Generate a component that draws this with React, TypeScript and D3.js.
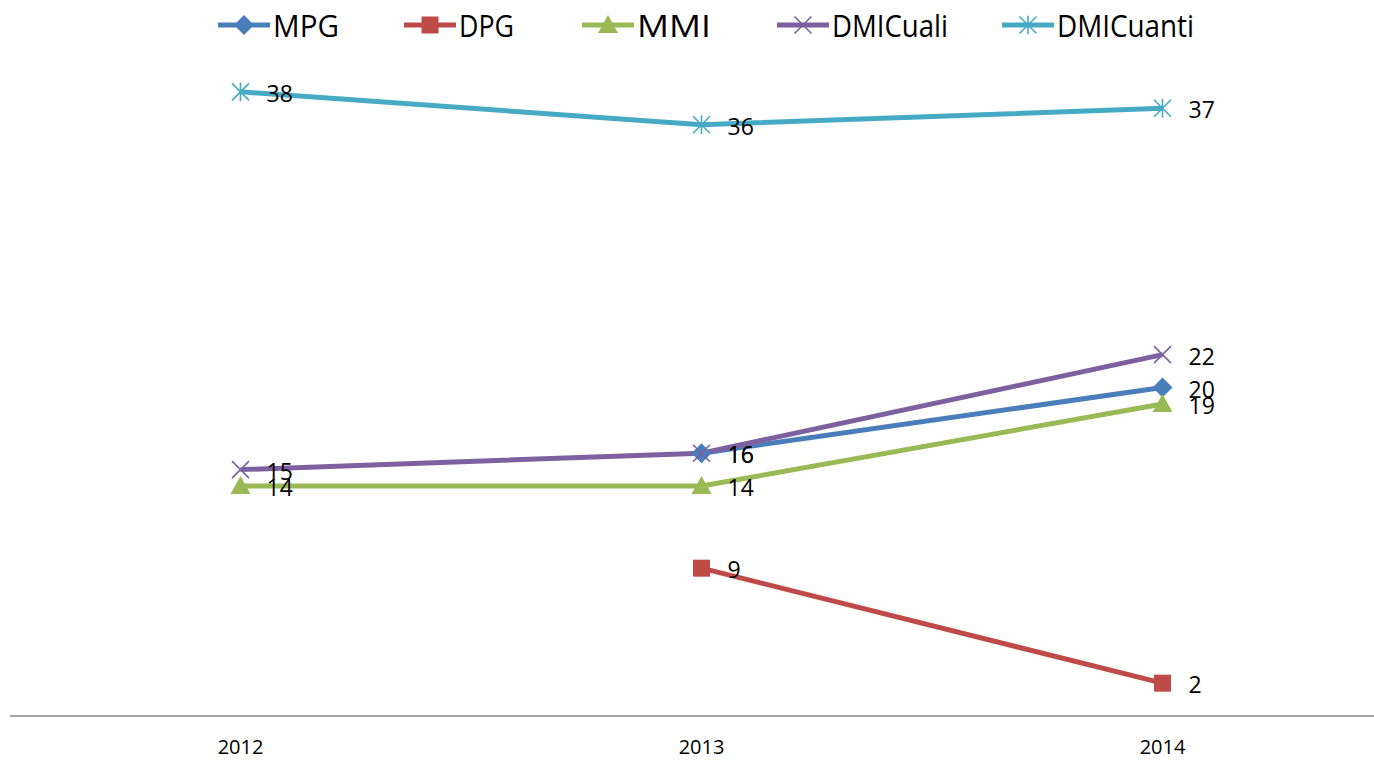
import React, { useRef, useEffect } from "react";
import * as d3 from "d3";

const years = ["2012", "2013", "2014"];
const seriesNames = ["MPG", "DPG", "MMI", "DMICuali", "DMICuanti"];
const mpg = [null, 16, 20];
const dpg = [null, 9, 2];
const mmi = [14, 14, 19];
const dmiCuali = [15, 16, 22];
const dmiCuanti = [38, 36, 37];
const colors = ["#4a7ebb", "#be4b48", "#98b954", "#7d60a0", "#46aac5"];
const markers = ["diamond", "square", "triangle", "x", "star"];

const W = 1374;
const H = 761;

function drawMarker(g: any, kind: string, color: string, s: number) {
  if (kind === "diamond") {
    g.append("path").attr("d", `M0,${-s}L${s},0L0,${s}L${-s},0Z`).attr("fill", color);
  } else if (kind === "square") {
    g.append("rect").attr("x", -s * 0.85).attr("y", -s * 0.85).attr("width", s * 1.7).attr("height", s * 1.7).attr("fill", color);
  } else if (kind === "triangle") {
    g.append("path").attr("d", `M0,${-s}L${s},${s * 0.8}L${-s},${s * 0.8}Z`).attr("fill", color);
  } else if (kind === "x") {
    const r = s * 0.85;
    g.append("path").attr("d", `M${-r},${-r}L${r},${r}M${-r},${r}L${r},${-r}`)
      .attr("stroke", color).attr("stroke-width", 1.6).attr("fill", "none");
  } else {
    const r = s * 0.85;
    g.append("path").attr("d", `M${-r},${-r}L${r},${r}M${-r},${r}L${r},${-r}M0,${-r * 1.1}L0,${r * 1.1}`)
      .attr("stroke", color).attr("stroke-width", 1.6).attr("fill", "none");
  }
}

export default function App() {
  const ref = useRef<SVGSVGElement>(null);

  useEffect(() => {
    const svg = d3.select(ref.current);
    svg.selectAll("*").remove();

    const all = [mpg, dpg, mmi, dmiCuali, dmiCuanti];

    const x = d3.scaleBand().domain(years).range([10, 1393]);
    const y = d3.scaleLinear().domain([0, 40]).range([716, 59]);
    const cx = (yr: string) => (x(yr) as number) + x.bandwidth() / 2;

    // axis
    svg.append("line").attr("x1", 10).attr("x2", W).attr("y1", y(0)).attr("y2", y(0))
      .attr("stroke", "#868686").attr("stroke-width", 1.5);
    svg.append("g").selectAll("text").data(years).enter().append("text")
      .attr("x", d => cx(d)).attr("y", 754)
      .attr("text-anchor", "middle")
      .attr("font-family", "Open Sans, sans-serif").attr("font-size", 20)
      .attr("fill", "#000").text(d => d);

    const line = d3.line<any>()
      .defined(d => d.v != null)
      .x(d => cx(d.yr))
      .y(d => y(d.v));

    all.forEach((vals, i) => {
      const pts = years.map((yr, j) => ({ yr, v: vals[j] }));
      svg.append("path").datum(pts).attr("d", line)
        .attr("fill", "none").attr("stroke", colors[i]).attr("stroke-width", 5)
        .attr("stroke-linejoin", "round");
    });

    all.forEach((vals, i) => {
      years.forEach((yr, j) => {
        const v = vals[j];
        if (v == null) return;
        const g = svg.append("g").attr("transform", `translate(${cx(yr)},${y(v)})`);
        drawMarker(g, markers[i], colors[i], 10);
      });
    });

    // data labels
    all.forEach((vals, i) => {
      years.forEach((yr, j) => {
        const v = vals[j];
        if (v == null) return;
        svg.append("text")
          .attr("x", cx(yr) + 26).attr("y", y(v) + 10)
          .attr("font-family", "Open Sans, sans-serif").attr("font-size", 23)
          .attr("fill", "#000").text(v);
      });
    });

    // legend
    const legX = [218, 404, 582, 777, 1002];
    const legTextW = [66, 55, 74, 116, 137];
    seriesNames.forEach((name, i) => {
      const g = svg.append("g").attr("transform", `translate(${legX[i]},25)`);
      g.append("line").attr("x1", 0).attr("x2", 52).attr("stroke", colors[i]).attr("stroke-width", 5);
      const m = g.append("g").attr("transform", "translate(26,0)");
      drawMarker(m, markers[i], colors[i], 10);
      g.append("text").attr("x", 55).attr("y", 12)
        .attr("font-family", "Open Sans, sans-serif").attr("font-size", 31)
        .attr("textLength", legTextW[i]).attr("lengthAdjust", "spacingAndGlyphs")
        .attr("fill", "#000").text(name);
    });
  }, []);

  return (
    <svg ref={ref} width={W} height={H} style={{ position: "absolute", left: 0, top: 0, background: "#fff" }} />
  );
}
